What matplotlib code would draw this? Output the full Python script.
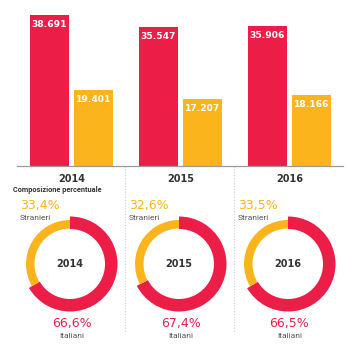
import numpy as np
import matplotlib
matplotlib.use("Agg")
import matplotlib.pyplot as plt

# Dati
anni = ["2014", "2015", "2016"]
italiani = [38691, 35547, 35906]
stranieri = [19401, 17207, 18166]
italiani_pct = [66.6, 67.4, 66.5]
stranieri_pct = [33.4, 32.6, 33.5]

rosso = "#EC1E48"
giallo = "#FBB41B"
scuro = "#333333"

W = 350.0
fig = plt.figure(figsize=(3.5, 3.5), dpi=100)

# Barre
base = 166
ax = fig.add_axes([0, (W - base) / W, 1, base / W])
x = np.arange(len(anni))
step = 109.0
c0 = 71.5
ax.bar(x - 0.202, italiani, 0.358, color=rosso)
ax.bar(x + 0.202, stranieri, 0.358, color=giallo)
ax.set_xlim(-c0 / step, (W - c0) / step)
ax.set_ylim(0, base / 0.0039)
for s in ax.spines.values():
    s.set_visible(False)
ax.set_yticks([])
ax.set_xticks(x, anni)
ax.tick_params(axis="x", length=0, pad=5.5, labelsize=7, labelcolor=scuro)
for lab in ax.get_xticklabels():
    lab.set_fontweight("bold")
ax.axhline(0, xmin=17 / W, xmax=343 / W, color="#9a9a9a", lw=0.9, clip_on=False)

for xs, vals in ((x - 0.202, italiani), (x + 0.202, stranieri)):
    for xi, v in zip(xs, vals):
        ax.annotate(f"{v:,}".replace(",", "."), (xi, v), xytext=(0, -5),
                    textcoords="offset pixels", ha="center", va="top",
                    color="white", fontsize=6.6, fontweight="bold")

# Livello in pixel per testi e separatori
ax0 = fig.add_axes([0, 0, 1, 1], zorder=-1)
ax0.set_xlim(0, W)
ax0.set_ylim(W, 0)
ax0.axis("off")
ax0.vlines([125, 234], 5, 332, colors="#cfcfcf", linestyles=(0, (1, 1.5)), lw=0.8)
ax0.text(13, 190, "Composizione percentuale", fontsize=5.3, fontweight="bold",
         family="Roboto", color=scuro, va="center", ha="left")

# Ciambelle
cy = 264
R = 47.5
for i, anno in enumerate(anni):
    cx = c0 + step * i - 1.5
    dax = fig.add_axes([(cx - R) / W, (W - cy - R) / W, 2 * R / W, 2 * R / W])
    dax.pie([italiani_pct[i], stranieri_pct[i]], radius=1, colors=[rosso, "none"],
            startangle=90, counterclock=False, wedgeprops=dict(width=12.5 / R))
    dax.pie([italiani_pct[i], stranieri_pct[i]], radius=44 / R, colors=["none", giallo],
            startangle=90, counterclock=False, wedgeprops=dict(width=8.5 / R))
    dax.set_xlim(-1, 1)
    dax.set_ylim(-1, 1)
    dax.text(0, 0, anno, ha="center", va="center", fontsize=7, color=scuro,
             fontweight="bold")

    ax0.text(cx - 50, 206, f"{stranieri_pct[i]:.1f}%".replace(".", ","),
             color=giallo, fontsize=9, fontweight="medium", ha="left", va="center")
    ax0.text(cx - 50, 217.5, "Stranieri", color="#555555", fontsize=6,
             family="Roboto", ha="left", va="center")
    ax0.text(cx + 1.5, 323, f"{italiani_pct[i]:.1f}%".replace(".", ","),
             color=rosso, fontsize=9, fontweight="medium", ha="center", va="center")
    ax0.text(cx + 1.5, 336, "Italiani", color="#555555", fontsize=6,
             family="Roboto", ha="center", va="center")

fig.savefig("out.png", dpi=100)
